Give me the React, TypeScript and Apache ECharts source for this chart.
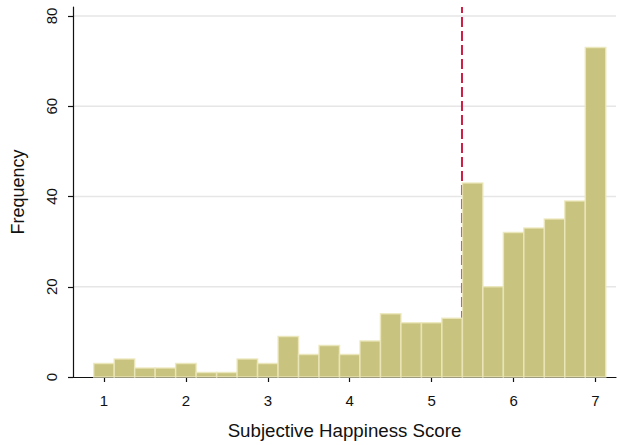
import React, { useEffect, useRef } from "react";
import * as echarts from "echarts";

const binCenters = [1, 1.25, 1.5, 1.75, 2, 2.25, 2.5, 2.75, 3, 3.25, 3.5, 3.75, 4, 4.25, 4.5, 4.75, 5, 5.25, 5.5, 5.75, 6, 6.25, 6.5, 6.75, 7];
const frequencies = [3, 4, 2, 2, 3, 1, 1, 4, 3, 9, 5, 7, 5, 8, 14, 12, 12, 13, 43, 20, 32, 33, 35, 39, 73];
const binWidth = 0.25;
const meanScore = 5.37;
const xTicks = [1, 2, 3, 4, 5, 6, 7];
const yTicks = [0, 20, 40, 60, 80];

const FONT = "'Liberation Sans', Arial, Helvetica, sans-serif";

export default function App() {
  const ref = useRef<HTMLDivElement>(null);
  useEffect(() => {
    if (!ref.current) return;
    const chart = echarts.init(ref.current, undefined, { renderer: "svg" });
    const data = binCenters.map((c, i) => [c, frequencies[i]]);
    const gridData = yTicks.filter((v) => v > 0).map((v) => [v]);
    chart.setOption({
      animation: false,
      grid: { left: 73, right: 2, top: 7, bottom: 65 },
      xAxis: {
        type: "value",
        min: 0.622,
        max: 7.25,
        name: "Subjective Happiness Score",
        nameLocation: "middle",
        nameGap: 44,
        nameTextStyle: { fontFamily: FONT, fontSize: 18.7, color: "#111" },
        axisLine: { show: true, lineStyle: { color: "#111", width: 1.2 } },
        axisTick: { show: true, length: 5, lineStyle: { color: "#111", width: 1.2 },
          customValues: xTicks },
        axisLabel: { fontFamily: FONT, fontSize: 15, color: "#111", margin: 16,
          customValues: xTicks },
        splitLine: { show: false },
      },
      yAxis: {
        type: "value",
        min: 0,
        max: 82,
        name: "Frequency",
        nameLocation: "middle",
        nameGap: 46,
        nameTextStyle: { fontFamily: FONT, fontSize: 18, color: "#111" },
        axisLine: { show: true, lineStyle: { color: "#111", width: 1.2 } },
        axisTick: { show: true, length: 5, lineStyle: { color: "#111", width: 1.2 },
          customValues: yTicks },
        axisLabel: { fontFamily: FONT, fontSize: 15, color: "#111", rotate: 90, margin: 14,
          customValues: yTicks },
        splitLine: { show: false },
      },
      series: [
        {
          type: "custom",
          z: 0,
          silent: true,
          data: gridData,
          renderItem: (params: any, api: any) => {
            const v = api.value(0);
            const a = api.coord([0.622, v]);
            const b = api.coord([7.25, v]);
            return {
              type: "line",
              shape: { x1: a[0] + 1, y1: a[1], x2: b[0], y2: b[1] },
              style: { stroke: "#e6e6e6", lineWidth: 1.5 },
            };
          },
        },
        {
          type: "line",
          z: 2,
          silent: true,
          symbol: "none",
          data: [[meanScore, 0], [meanScore, 82]],
          lineStyle: { color: "#cc1f43", width: 2, type: [10, 4] },
        },
        {
          type: "custom",
          z: 3,
          silent: true,
          data,
          renderItem: (params: any, api: any) => {
            const x = api.value(0);
            const y = api.value(1);
            const p0 = api.coord([x - binWidth / 2, 0]);
            const p1 = api.coord([x + binWidth / 2, y]);
            return {
              type: "rect",
              shape: { x: p0[0], y: p1[1], width: p1[0] - p0[0], height: p0[1] - p1[1] },
              style: { fill: "#c8c37e", stroke: "rgba(236,232,188,0.85)", lineWidth: 1.5 },
            };
          },
        },
      ],
    });
    return () => chart.dispose();
  }, []);
  return <div ref={ref} style={{ width: 618, height: 445, position: "absolute", left: 0, top: 0 }} />;
}
